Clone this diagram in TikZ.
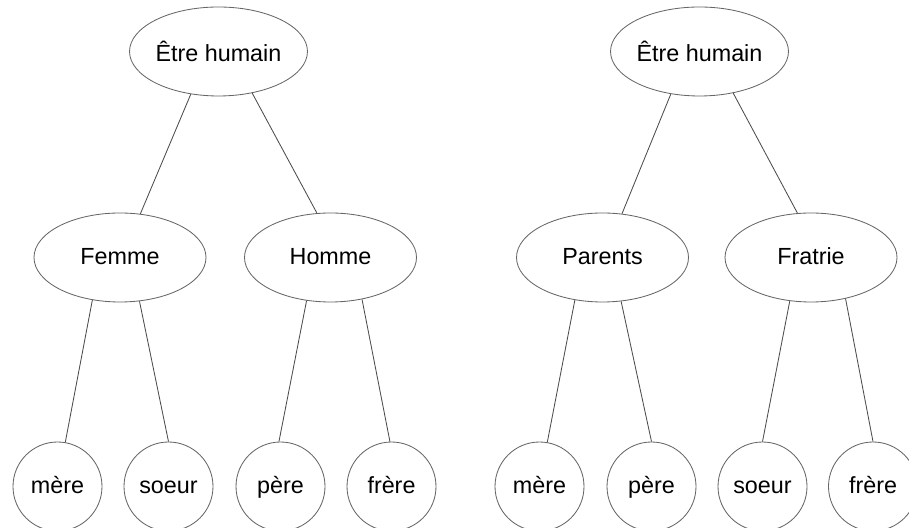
\documentclass[tikz,border=0pt]{standalone}
\usepackage{fontspec}
\setmainfont{Liberation Sans}
\usetikzlibrary{shapes.geometric}

\tikzset{
  concept/.style={ellipse, draw=black!60, line width=0.6pt, inner sep=0pt,
    minimum width=4.3cm, minimum height=2.225cm},
  sub/.style={concept, text height=10.6pt, text depth=0pt},
  leaf/.style={circle, draw=black!60, line width=0.6pt, inner sep=0pt,
    minimum size=2.225cm, text height=10.6pt, text depth=0pt},
  link/.style={draw=black!70, line width=0.6pt}
}

\begin{document}
\begin{tikzpicture}[font=\fontsize{16.6}{20}\selectfont]
  % Frame (fixes the margins)
  \useasboundingbox (0,0) rectangle (22.725,13.2);

  % Left tree: by sex
  \node[concept] (rootL) at (5.4625,11.9125) {Être humain};
  \node[sub] (femme) at (3.0,6.7625) {Femme};
  \node[sub] (homme) at (8.2625,6.7625) {Homme};
  \node[leaf] (mereL) at (1.4375,1.0375) {mère};
  \node[leaf] (soeurL) at (4.2125,1.0375) {soeur};
  \node[leaf] (pereL) at (7.0125,1.0375) {père};
  \node[leaf] (frereL) at (9.7875,1.0375) {frère};

  % Right tree: by generation
  \node[concept] (rootR) at (17.4875,11.9125) {Être humain};
  \node[sub] (parents) at (15.0625,6.7625) {Parents};
  \node[sub] (fratrie) at (20.275,6.7625) {Fratrie};
  \node[leaf] (mereR) at (13.4875,1.0375) {mère};
  \node[leaf] (pereR) at (16.2875,1.0375) {père};
  \node[leaf] (soeurR) at (19.0625,1.0375) {soeur};
  \node[leaf] (frereR) at (21.825,1.0375) {frère};

  % Links (hand placed on the borders)
  \path[link] (rootL.237) -- (femme.65) (rootL.309) -- (homme.107);
  \path[link] (femme.237) -- (mereL.80) (femme.294) -- (soeurL.90);
  \path[link] (homme.241) -- (pereL.92) (homme.307) -- (frereL.92);
  \path[link] (rootR.236) -- (parents.66) (rootR.309) -- (fratrie.107);
  \path[link] (parents.237) -- (mereR.80) (parents.293) -- (pereR.90);
  \path[link] (fratrie.244) -- (soeurR.90) (fratrie.310) -- (frereR.90);
\end{tikzpicture}
\end{document}
